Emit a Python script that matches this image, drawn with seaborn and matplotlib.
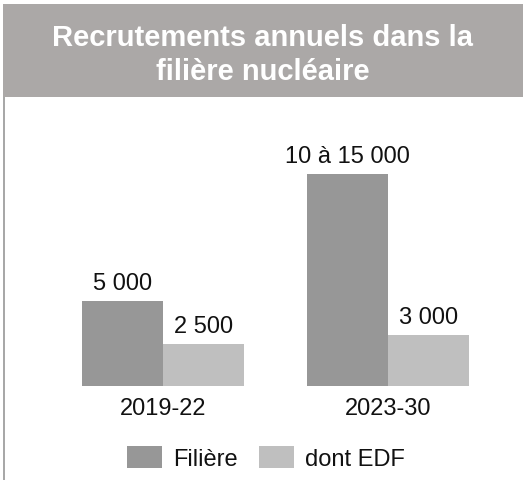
import matplotlib
matplotlib.use('Agg')
import matplotlib.pyplot as plt
import seaborn as sns
import pandas as pd
from matplotlib.patches import Rectangle, Patch

# Data
periods = ['2019-22', '2023-30']
series = ['Filière', 'dont EDF']
filiere = [5000, 12500]
edf = [2500, 3000]
bar_labels = [['5 000', '10 à 15 000'], ['2 500', '3 000']]
title = 'Recrutements annuels dans la\nfilière nucléaire'

colors = ['#979797', '#bfbfbf']

sns.set_style('white')
plt.rcParams['font.family'] = ['Liberation Sans', 'DejaVu Sans']

W, H = 523, 481
fig = plt.figure(figsize=(W / 100, H / 100), dpi=100)

# title box and left rule
fig.patches.append(Rectangle((3 / W, 1 - 98 / H), 520 / W, 93 / H, transform=fig.transFigure,
                             facecolor='#aba8a7', edgecolor='none', zorder=0))
fig.patches.append(Rectangle((3 / W, 0), 2 / W, 1 - 98 / H, transform=fig.transFigure,
                             facecolor='#a8a8a8', edgecolor='none', zorder=0))
fig.text(263 / W, 1 - 55 / H, title, ha='center', va='center', color='white',
         fontsize=21, fontweight='bold', linespacing=1.25)

df = pd.DataFrame({
    'period': periods * 2,
    'series': [series[0]] * 2 + [series[1]] * 2,
    'value': filiere + edf,
})

# axes placed so that baseline sits at y=387 px
left, right, base, top = 6, 523, 387, 100
ax = fig.add_axes([left / W, 1 - base / H, (right - left) / W, (base - top) / H])
sns.barplot(data=df, x='period', y='value', hue='series', palette=colors,
            width=0.72, ax=ax, legend=False, saturation=1, linewidth=0)

unit = 225.0
ax.set_xlim((left - 163) / unit, (right - 163) / unit)
ax.set_ylim(0, (base - top) / 17 * 1000)

for cont, labs in zip(ax.containers, bar_labels):
    ax.bar_label(cont, labels=labs, padding=5, fontsize=17, color='#111111')

ax.set_xlabel('')
ax.set_ylabel('')
ax.set_yticks([])
ax.tick_params(axis='x', length=0, labelsize=17, pad=8, labelcolor='#111111')
for s in ax.spines.values():
    s.set_visible(False)
ax.patch.set_alpha(0)

handles = [Patch(facecolor=c, edgecolor='none') for c in colors]
fig.legend(handles, series, loc='center', bbox_to_anchor=(266 / W, 1 - 459 / H),
           ncol=2, frameon=False, fontsize=17, handlelength=1.45, handleheight=1.1,
           handletextpad=0.47, columnspacing=0.93, labelcolor='#111111')

fig.savefig('out.png', dpi=100)
